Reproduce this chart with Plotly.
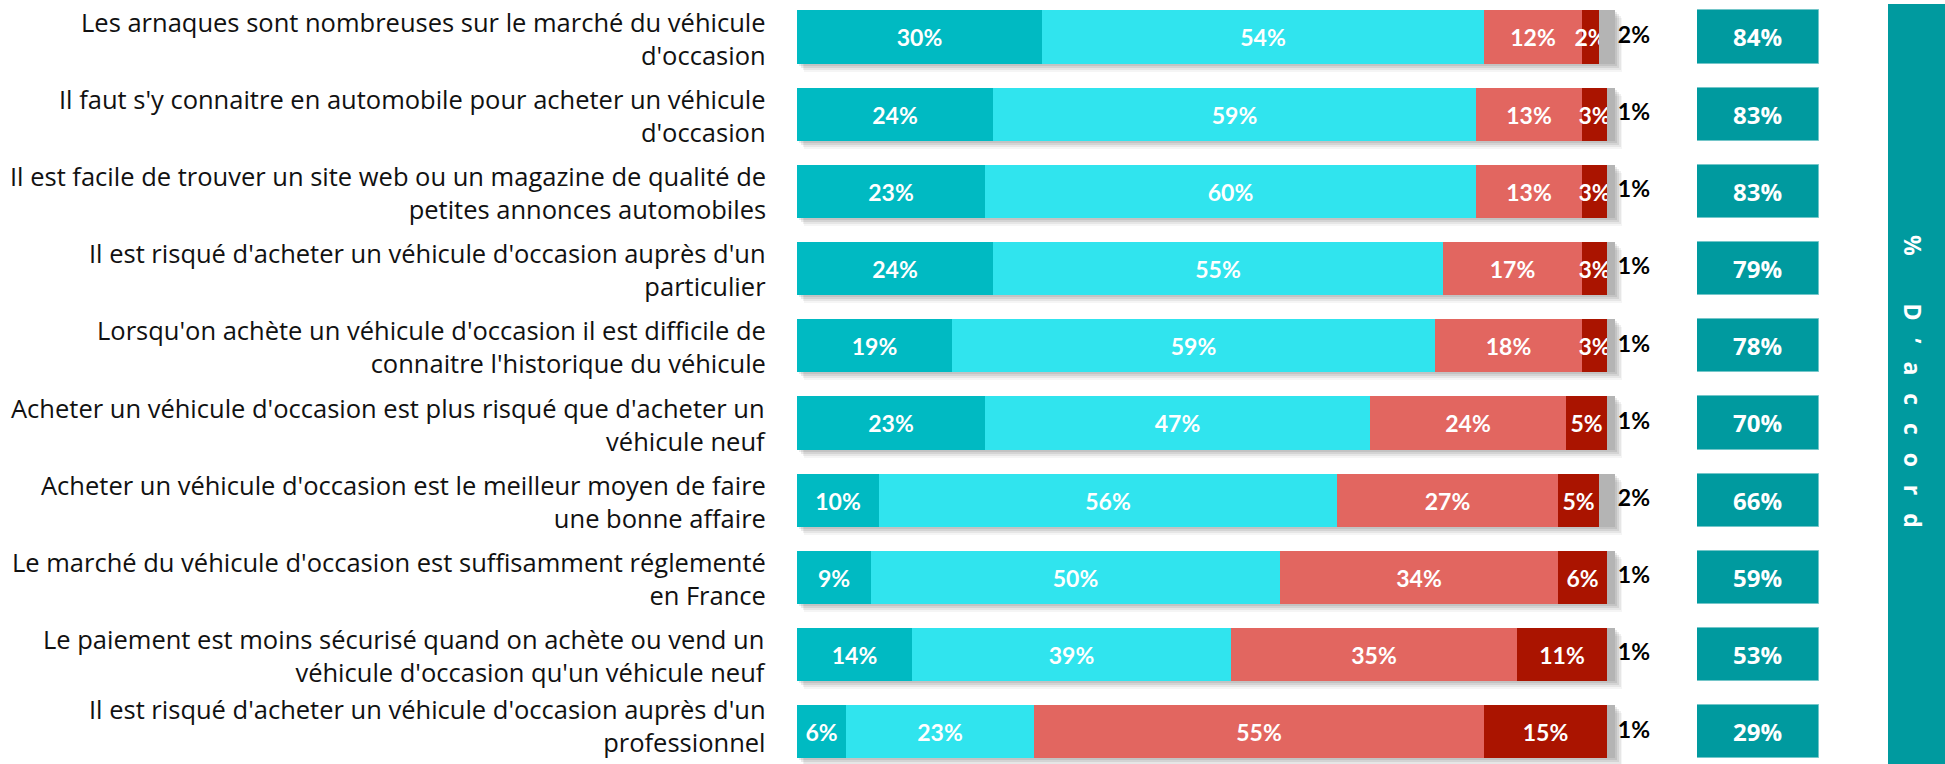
import plotly.graph_objects as go
import numpy as np

# ---------------- data ----------------
categories = [
    "Les arnaques sont nombreuses sur le marché du véhicule<br>d'occasion",
    "Il faut s'y connaitre en automobile pour acheter un véhicule<br>d'occasion",
    "Il est facile de trouver un site web ou un magazine de qualité de<br>petites annonces automobiles",
    "Il est risqué d'acheter un véhicule d'occasion auprès d'un<br>particulier",
    "Lorsqu'on achète un véhicule d'occasion il est difficile de<br>connaitre l'historique du véhicule",
    "Acheter un véhicule d'occasion est plus risqué que d'acheter un<br>véhicule neuf",
    "Acheter un véhicule d'occasion est le meilleur moyen de faire<br>une bonne affaire",
    "Le marché du véhicule d'occasion est suffisamment réglementé<br>en France",
    "Le paiement est moins sécurisé quand on achète ou vend un<br>véhicule d'occasion qu'un véhicule neuf",
    "Il est risqué d'acheter un véhicule d'occasion auprès d'un<br>professionnel",
]
tout_a_fait_daccord = [30, 24, 23, 24, 19, 23, 10, 9, 14, 6]
plutot_daccord = [54, 59, 60, 55, 59, 47, 56, 50, 39, 23]
plutot_pas_daccord = [12, 13, 13, 17, 18, 24, 27, 34, 35, 55]
pas_du_tout_daccord = [2, 3, 3, 3, 3, 5, 5, 6, 11, 15]
nsp = [2, 1, 1, 1, 1, 1, 2, 1, 1, 1]
total_daccord = [84, 83, 83, 79, 78, 70, 66, 59, 53, 29]
side_title = "% D’accord"

# ---------------- styling ----------------
W, H = 1945, 764
row_px = 77.2
first_center = 37.0
bar_w = 0.69
px_per_unit = 8.18
bar_left = 797
x_range_max = 108

colors = ["#00BAC2", "#30E4EE", "#E26660", "#AA1400", "#B4B4B4"]
box_color = "#009A9F"
label_font = "Lato, 'Open Sans', sans-serif"
cat_font = "'Open Sans', 'Noto Sans', sans-serif"

segments = [tout_a_fait_daccord, plutot_daccord, plutot_pas_daccord,
            pas_du_tout_daccord, nsp]
seg_arr = np.array(segments, dtype=float)
bases = np.vstack([np.zeros(len(categories)), np.cumsum(seg_arr, axis=0)[:-1]])
totals = seg_arr.sum(axis=0)

fig = go.Figure()

# soft drop shadows
for dy, dx, alpha in [(8, 0.9, 0.04), (6, 0.7, 0.06), (4, 0.5, 0.08), (2, 0.3, 0.08)]:
    fig.add_trace(go.Bar(
        y=categories, x=totals, base=[dx] * len(categories), orientation="h",
        width=bar_w, offset=-bar_w / 2 + dy / row_px,
        marker=dict(color=f"rgba(0,0,0,{alpha})", line=dict(width=0)),
        hoverinfo="skip", showlegend=False,
    ))

# stacked segments
for i, (vals, col) in enumerate(zip(segments, colors)):
    is_last = i == len(segments) - 1
    fig.add_trace(go.Bar(
        y=categories, x=vals, base=bases[i], orientation="h",
        width=bar_w,
        marker=dict(color=col, line=dict(width=0)),
        text=None if is_last else [f"{v}%" for v in vals],
        textposition="none" if is_last else "inside",
        insidetextanchor="middle", textangle=0, constraintext="none",
        textfont=dict(family=label_font, size=23, color="white", weight="bold"),
        showlegend=False,
    ))

# outside labels for the last (grey) segment
fig.add_trace(go.Scatter(
    y=categories, x=totals, mode="text",
    text=[f"\u2009{v}%" for v in nsp], textposition="middle right",
    textfont=dict(family=label_font, size=23, color="black", weight="bold"),
    cliponaxis=False, showlegend=False, hoverinfo="skip",
))

# right-hand "% d'accord" boxes
fig.add_trace(go.Bar(
    y=categories, x=[1] * len(categories), orientation="h", width=bar_w,
    xaxis="x2", yaxis="y",
    marker=dict(color=box_color, line=dict(width=1, color="#74C6C9")),
    text=[f"{v}%" for v in total_daccord], textposition="inside",
    insidetextanchor="middle", textangle=0, constraintext="none",
    textfont=dict(family="'Open Sans', sans-serif", size=24, color="white", weight="bold"),
    showlegend=False,
))

y_top = -first_center / row_px
y_bot = (H - first_center) / row_px

# category labels as right-aligned annotations
cat_annotations = [dict(
    xref="paper", yref="y", x=768 / W, y=c, text=c,
    xanchor="right", yanchor="middle", align="right", showarrow=False,
    yshift=6 if k == len(categories) - 1 else -1,
    font=dict(family=cat_font, size=25.5, color="#111111"),
) for k, c in enumerate(categories)]

fig.update_layout(
    width=W, height=H, autosize=False,
    margin=dict(l=0, r=0, t=0, b=0),
    paper_bgcolor="white", plot_bgcolor="white",
    barmode="overlay", bargap=0,
    xaxis=dict(domain=[bar_left / W, (bar_left + px_per_unit * x_range_max) / W],
               range=[0, x_range_max], visible=False, fixedrange=True),
    xaxis2=dict(domain=[1697 / W, 1819 / W], range=[0, 1], anchor="y",
                visible=False, fixedrange=True),
    yaxis=dict(type="category", categoryorder="array", categoryarray=categories,
               range=[y_bot, y_top], showgrid=False, zeroline=False, showline=False,
               showticklabels=False, ticks="", fixedrange=True),
    shapes=[dict(type="rect", xref="paper", yref="paper",
                 x0=1888 / W, x1=1.0, y0=0, y1=1 - 4 / H,
                 fillcolor=box_color, line=dict(width=0), layer="below")],
    annotations=cat_annotations + [dict(
        xref="paper", yref="paper", x=1913 / W, y=1 - 381 / H,
        text="%" + "\u00a0" * 8 + ("\u00a0" * 3).join(list("D’accord")),
        textangle=90, showarrow=False,
        font=dict(family="'Open Sans', sans-serif", size=23, color="white", weight="bold"),
        xanchor="center", yanchor="middle",
    )],
)

fig.write_html("out.html", config={"displayModeBar": False},
               post_script="document.body.style.margin='0';document.body.style.overflow='hidden';")
